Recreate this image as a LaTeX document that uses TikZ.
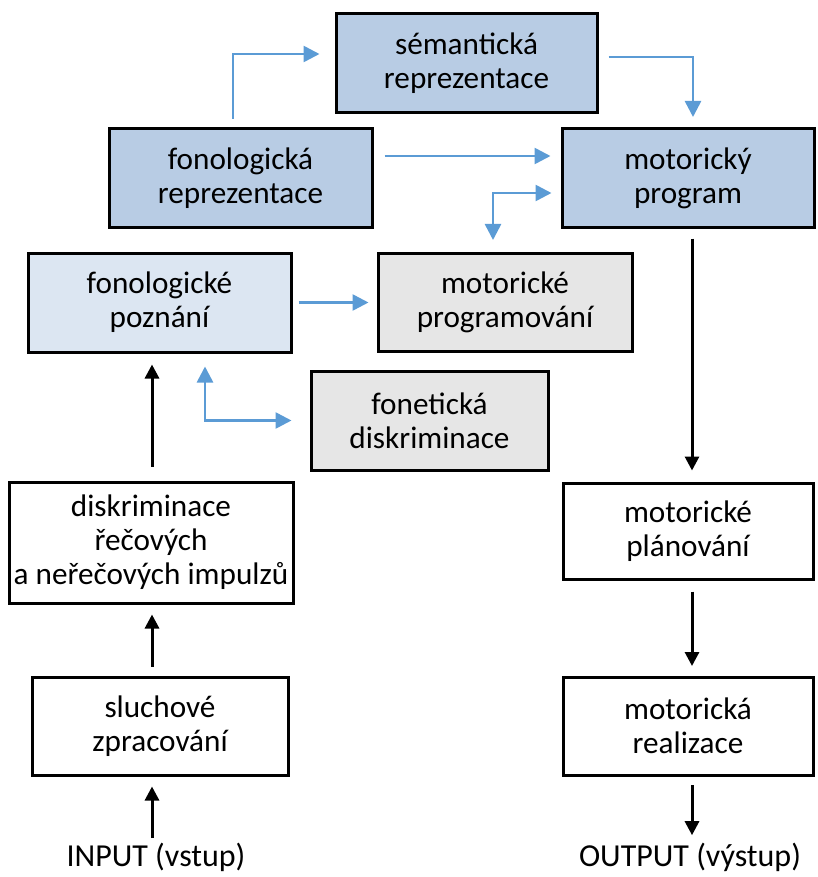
\documentclass[tikz,border=0pt]{standalone}
\usepackage{fontspec}
\setmainfont{Carlito}
\usepackage{tikz}
\usetikzlibrary{calc,arrows.meta}

\definecolor{semblue}{HTML}{B8CCE4}
\definecolor{lightblue}{HTML}{DCE6F2}
\definecolor{graybox}{HTML}{E6E6E6}
\definecolor{arrblue}{HTML}{5B9BD5}

\tikzset{
  bx/.style={draw, line width=1.5pt, align=center, inner sep=0pt,
    font=\fontsize{15.6}{17}\selectfont},
  btip/.tip={Triangle[length=8pt,width=8pt]},
  ktip/.tip={Triangle[length=7pt,width=7pt]},
  bluearr/.style={draw=arrblue, line width=1.3pt, -btip},
  blackarr/.style={draw=black, line width=1.5pt, -ktip},
  lbl/.style={inner sep=0pt, anchor=base, font=\fontsize{16}{17}\selectfont}
}

\begin{document}
\begin{tikzpicture}[x=0.5pt, y=-0.5pt]
  \useasboundingbox (0,0) rectangle (818,877);
  % boxes
  \node[bx, fill=semblue, minimum width=130.5pt, minimum height=49.5pt] (sem) at (466.5,63.5) {sémantická\\reprezentace};
  \node[bx, fill=semblue, minimum width=131.5pt, minimum height=49.5pt] (fonrep) at (240.5,178) {fonologická\\reprezentace};
  \node[bx, fill=semblue, minimum width=126pt, minimum height=49.5pt] (motprog) at (688,178) {motorický\\program};
  \node[bx, fill=lightblue, minimum width=131.5pt, minimum height=49.5pt] (fonpoz) at (159.5,302.5) {fonologické\\poznání};
  \node[bx, fill=graybox, minimum width=127pt, minimum height=49pt] (motprg) at (505,302.5) {motorické\\programování};
  \node[bx, fill=graybox, minimum width=118.5pt, minimum height=49.5pt] (fondis) at (429.5,420.5) {fonetická\\diskriminace};
  \node[bx, minimum width=142pt, minimum height=60.5pt] (diskr) at (151,542.5) {diskriminace\\řečových\\a neřečových impulzů};
  \node[bx, minimum width=128pt, minimum height=49pt] (sluch) at (160,726) {sluchové\\zpracování};
  \node[bx, minimum width=125pt, minimum height=48pt] (motplan) at (688,531) {motorické\\plánování};
  \node[bx, minimum width=125pt, minimum height=49pt] (motreal) at (688,726) {motorická\\realizace};
  \node[lbl] (input) at (156,866) {INPUT (vstup)};
  \node[lbl] (output) at (690,866) {OUTPUT (výstup)};

  % blue connectors
  \draw[bluearr] ($(fonrep.north)+(-7.5,-8)$) |- ($(sem.west)+(-15,-9.5)$);
  \draw[bluearr] ($(sem.east)+(10,-6.5)$) -| ($(motprog.north)+(5,-10)$);
  \draw[bluearr] ($(fonrep.east)+(11,-22)$) -- ($(motprog.west)+(-10,-22)$);
  \draw[bluearr, btip-btip] ($(motprog.west)+(-9,15)$) -| ($(motprg.north)+(-12,-12)$);
  \draw[bluearr] ($(fonpoz.east)+(6,0)$) -- ($(motprg.west)+(-8,0)$);
  \draw[bluearr, btip-btip] ($(fonpoz.south)+(45.5,13)$) |- ($(fondis.west)+(-18,0)$);

  % black connectors
  \draw[blackarr] ($(input.north)+(-4,-4)$) -- ($(sluch.south)+(-8,10)$);
  \draw[blackarr] ($(sluch.north)+(-8,-9)$) -- ($(diskr.south)+(1,10)$);
  \draw[blackarr] ($(diskr.north)+(1,-14)$) -- ($(fonpoz.south)+(-7.5,11)$);
  \draw[blackarr] ($(motprog.south)+(4,9.5)$) -- ($(motplan.north)+(4,-11)$);
  \draw[blackarr] ($(motplan.south)+(4,11)$) -- ($(motreal.north)+(4,-9.5)$);
  \draw[blackarr] ($(motreal.south)+(4,8.5)$) -- ($(output.north)+(2,-7)$);
\end{tikzpicture}
\end{document}
